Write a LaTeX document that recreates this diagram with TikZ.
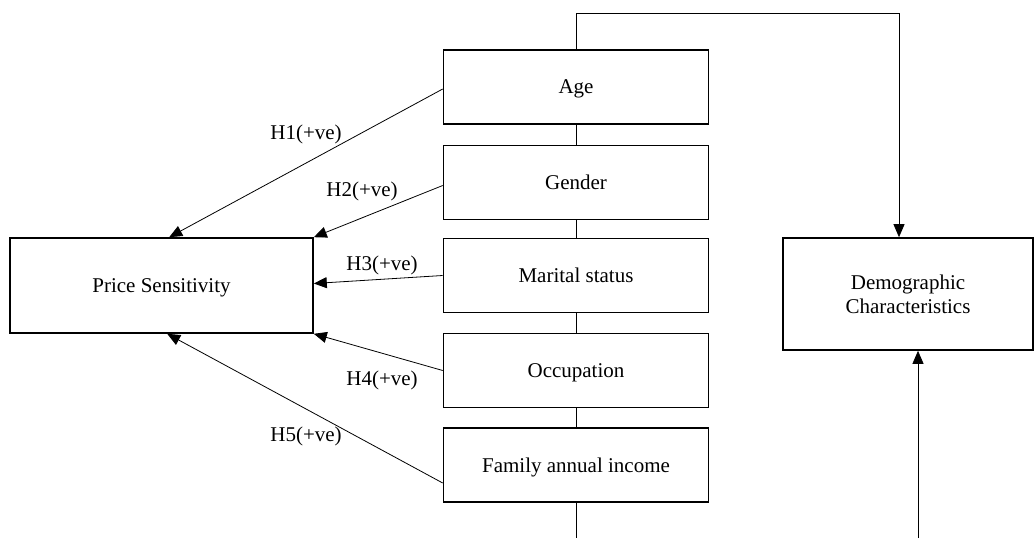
\documentclass[tikz,border=0pt]{standalone}
\usepackage{fontspec}
\setmainfont{Liberation Serif}
\usetikzlibrary{arrows.meta}

\begin{document}
\begin{tikzpicture}
[
    x=1pt, y=-1pt,
    every node/.style={font=\fontsize{21}{24}\selectfont},
    factor/.style={draw, line width=1.6pt, fill=white, minimum width=265pt, minimum height=74pt, inner sep=0pt, text depth=0pt},
    outcome/.style={draw, line width=1.6pt, fill=white, inner sep=0pt, align=center, text depth=0pt},
    link/.style={line width=0.8pt, -{Triangle[length=13pt, width=11pt]}},
    spine/.style={line width=0.8pt},
]
\useasboundingbox (0,0) rectangle (1035,538);
% outcome boxes
\node [outcome, minimum width=303pt, minimum height=95pt] (price) at (161.5,285.5) {Price Sensitivity};
\node [outcome, minimum width=250pt, minimum height=112pt] (demo) at (908,294) {Demographic\\Characteristics};
% demographic factors
\node [factor] (age) at (576,87) {Age};
\node [factor] (gender) at (576,182.5) {Gender};
\node [factor] (marital) at (576,275.5) {Marital status};
\node [factor] (occup) at (576,370.5) {Occupation};
\node [factor] (income) at (576,465) {Family annual income};
% spine through the factors
\coordinate (top) at (576,13);
\coordinate (bottom) at (576,538);
\coordinate (topright) at (899,13);
\coordinate (bottomright) at (918,538);
\draw [spine] (top) -- (age);
\draw [spine] (age) -- (gender);
\draw [spine] (gender) -- (marital);
\draw [spine] (marital) -- (occup);
\draw [spine] (occup) -- (income);
\draw [spine] (income) -- (bottom);
\draw [link] (top) -- (topright) -- (topright |- demo.north);
\draw [link] (bottomright) -- (bottomright |- demo.south);
% hypotheses
\draw [link] ([yshift=-2pt]age.west) -- ([xshift=160pt]price.north west);
\draw [link] ([yshift=-3pt]gender.west) -- (price.north east);
\draw [link] (marital.west) -- ([yshift=2pt]price.east);
\draw [link] (occup.west) -- (price.south east);
\draw [link] ([yshift=-18pt]income.west) -- ([xshift=158pt]price.south west);
\node (h1) at (306,134) {H1(+ve)};
\node (h2) at (362,191) {H2(+ve)};
\node (h3) at (382,265) {H3(+ve)};
\node (h4) at (382,380) {H4(+ve)};
\node (h5) at (306,436) {H5(+ve)};
\end{tikzpicture}
\end{document}
